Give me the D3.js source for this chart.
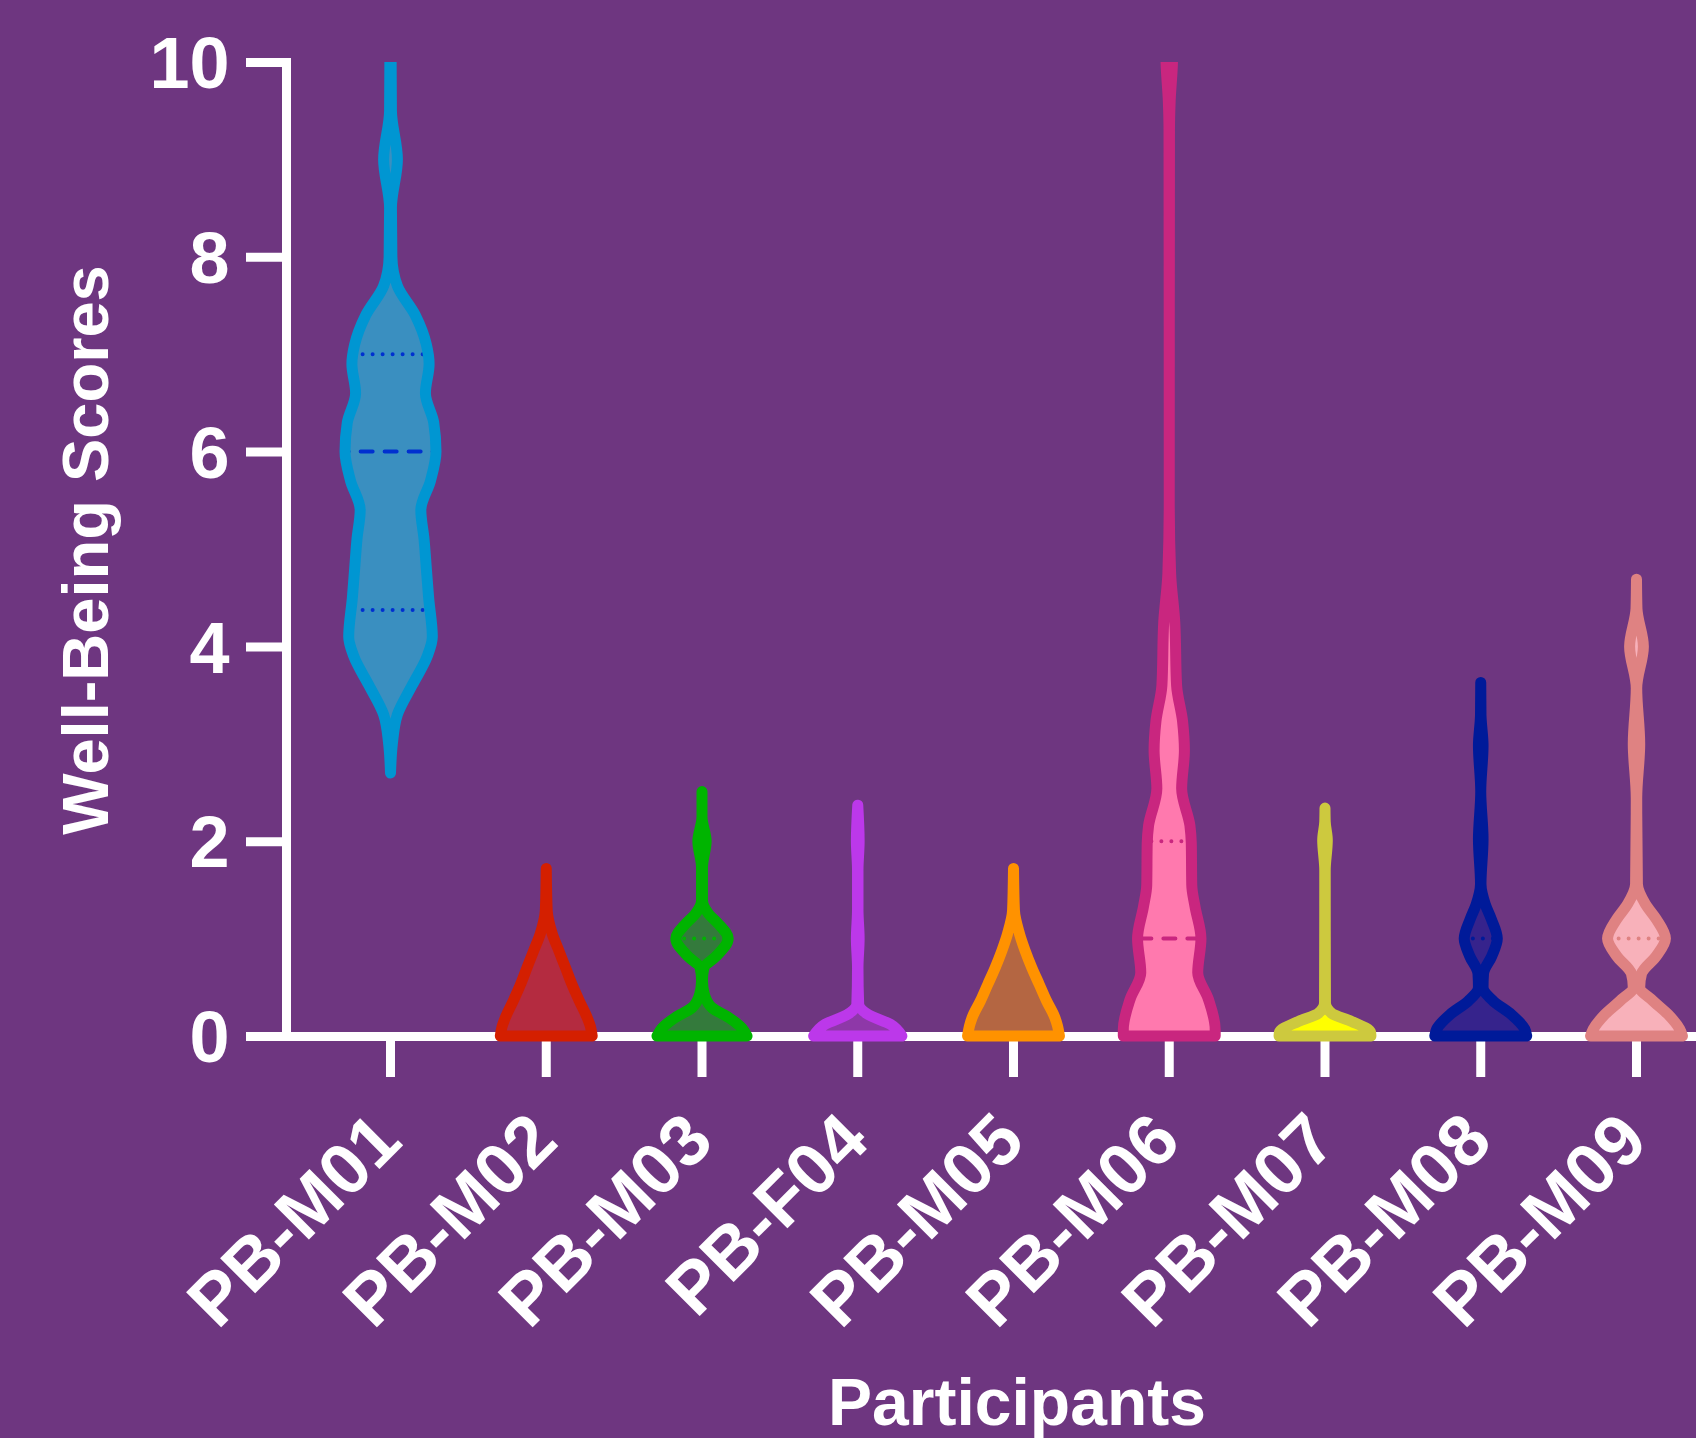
<!DOCTYPE html>
<html>
<head>
<meta charset="utf-8">
<script src="https://cdn.jsdelivr.net/npm/d3@7"></script>
<style>
  body { margin: 0; background: #6e3680; }
  text { font-family: "Liberation Sans", Arial, sans-serif; font-weight: bold; fill: #fff; }
</style>
</head>
<body>
<div id="chart"></div>
<script>
// participants on the x axis
const participants = ['PB-M01', 'PB-M02', 'PB-M03', 'PB-F04', 'PB-M05', 'PB-M06', 'PB-M07', 'PB-M08', 'PB-M09'];
const yTicks = [0, 2, 4, 6, 8, 10];

// violin outlines: [score, relative density]
const violinM01 = [[2.7, 0], [3.0, 0.04], [3.3, 0.15], [3.6, 0.47], [3.9, 0.8], [4.1, 0.91], [4.5, 0.83], [4.8, 0.78], [5.1, 0.73], [5.4, 0.66], [5.7, 0.87], [6.0, 0.99], [6.3, 0.94], [6.6, 0.76], [6.9, 0.84], [7.1, 0.78], [7.4, 0.54], [7.7, 0.15], [8.0, 0.03], [8.5, 0.02], [9.0, 0.15], [9.5, 0.02], [10.3, 0.01]];
const violinM02 = [[0, 1.0], [0.1, 0.96], [0.19, 0.89], [0.36, 0.72], [0.53, 0.56], [0.7, 0.42], [0.88, 0.27], [1.05, 0.13], [1.29, 0.02], [1.72, 0]];
const violinM03 = [[0, 0.98], [0.08, 0.87], [0.19, 0.58], [0.29, 0.22], [0.43, 0.05], [0.57, 0.01], [0.7, 0.04], [0.81, 0.29], [1.0, 0.57], [1.15, 0.36], [1.25, 0.15], [1.39, 0.01], [1.73, 0.01], [2.0, 0.09], [2.25, 0.0], [2.51, 0]];
const violinF04 = [[0, 0.96], [0.12, 0.71], [0.22, 0.23], [0.33, 0.02], [0.7, 0.005], [1.0, 0.03], [1.3, 0.005], [1.7, 0.005], [2.0, 0.03], [2.37, 0]];
const violinM05 = [[0, 1.0], [0.1, 0.96], [0.19, 0.9], [0.36, 0.72], [0.53, 0.56], [0.7, 0.4], [0.88, 0.25], [1.05, 0.13], [1.29, 0.02], [1.72, 0]];
const violinM06 = [[0, 1.0], [0.07, 1.0], [0.38, 0.85], [0.65, 0.62], [1.0, 0.69], [1.33, 0.56], [1.55, 0.49], [1.98, 0.48], [2.16, 0.45], [2.54, 0.27], [2.93, 0.33], [3.23, 0.29], [3.6, 0.16], [4.25, 0.12], [4.75, 0.03], [5.5, 0.0], [9.3, 0.005], [9.6, 0.02], [10.0, 0.07], [10.4, 0.08]];
const violinM07 = [[0, 1.0], [0.04, 0.99], [0.15, 0.58], [0.23, 0.15], [0.34, 0.01], [1.7, 0.005], [2.01, 0.05], [2.2, 0.005], [2.34, 0]];
const violinM08 = [[0, 1.0], [0.07, 0.96], [0.22, 0.67], [0.36, 0.27], [0.5, 0.05], [0.64, 0.06], [0.82, 0.24], [1.0, 0.36], [1.2, 0.23], [1.35, 0.1], [1.56, 0.005], [2.02, 0.05], [2.51, 0.0], [2.98, 0.05], [3.3, 0.005], [3.63, 0]];
const violinM09 = [[0, 1.0], [0.07, 0.94], [0.22, 0.69], [0.36, 0.36], [0.5, 0.07], [0.64, 0.11], [0.82, 0.43], [1.0, 0.63], [1.2, 0.43], [1.35, 0.2], [1.56, 0.02], [2.44, 0.005], [3.0, 0.07], [3.57, 0.005], [4.0, 0.15], [4.39, 0.01], [4.69, 0]];
const violins = [violinM01, violinM02, violinM03, violinF04, violinM05, violinM06, violinM07, violinM08, violinM09];

const medians = [6, 0, 0, 0, 0, 1, 0, 0, 0];
const lowerQuartiles = [4.375, 0, 0, 0, 0, 0, 0, 0, 0];
const upperQuartiles = [7, 0, 1, 0, 0, 2, 0, 1, 1];

const strokeColors = ['#0096d2', '#d41f00', '#00b400', '#bc38ea', '#ff9200', '#c9267f', '#cdc93e', '#001a99', '#df8282'];
const fillColors = ['#3a8fc0', '#b42b40', '#347a3c', '#8e38a8', '#b46642', '#ff79ae', '#ffff00', '#36238c', '#f8b1ba'];
const lineColors = ['#0030d0', '#d41f00', '#00b400', '#bc38ea', '#ff9200', '#c9267f', '#cdc93e', '#001a99', '#df8282'];

const width = 1696, height = 1438;
const margin = { left: 286, top: 62, bottom: 1036 };

const svg = d3.select('#chart').append('svg')
    .attr('width', width)
    .attr('height', height);

svg.append('rect')
    .attr('width', width)
    .attr('height', height)
    .attr('fill', '#6e3680');

const y = d3.scaleLinear().domain([0, 10]).range([margin.bottom, margin.top]);
const x = d3.scaleBand()
    .domain(participants)
    .range([margin.left, margin.left + 1455])
    .paddingInner(0)
    .paddingOuter(0.171);
const halfWidth = d3.scaleLinear().domain([0, 1]).range([0, x.bandwidth() * 0.295]);

// axes first, violins are painted over them
const yAxis = d3.axisLeft(y).tickValues(yTicks).tickSize(40).tickSizeOuter(0);
const yAxisG = svg.append('g')
    .attr('transform', `translate(${margin.left},0)`)
    .call(yAxis);
yAxisG.select('.domain').attr('stroke', '#fff').attr('stroke-width', 9).attr('stroke-linecap', 'square');
yAxisG.selectAll('.tick line').attr('stroke', '#fff').attr('stroke-width', 9);
yAxisG.selectAll('.tick text')
    .attr('x', -56.5)
    .attr('dy', '0.358em')
    .attr('fill', '#fff')
    .style('font-size', '72px')
    .style('font-family', '"Liberation Sans", Arial, sans-serif')
    .style('font-weight', 'bold');

const xAxis = d3.axisBottom(x).tickSize(41).tickSizeOuter(0);
const xAxisG = svg.append('g')
    .attr('transform', `translate(0,${margin.bottom})`)
    .call(xAxis);
xAxisG.select('.domain').attr('stroke', '#fff').attr('stroke-width', 9);
xAxisG.selectAll('.tick line').attr('stroke', '#fff').attr('stroke-width', 9);
xAxisG.selectAll('.tick text')
    .attr('y', 0)
    .attr('dy', 0)
    .attr('transform', 'translate(14,108) rotate(-45)')
    .attr('text-anchor', 'end')
    .attr('fill', '#fff')
    .style('font-size', '72px')
    .style('font-family', '"Liberation Sans", Arial, sans-serif')
    .style('font-weight', 'bold');

const defs = svg.append('defs');
defs.append('clipPath').attr('id', 'plot-clip')
  .append('rect')
    .attr('x', margin.left)
    .attr('y', y(10))
    .attr('width', width)
    .attr('height', height);

const violinG = svg.append('g').attr('clip-path', 'url(#plot-clip)');

participants.forEach((p, i) => {
    const cx = x(p) + x.bandwidth() / 2;
    const pts = violins[i].slice().sort((a, b) => b[0] - a[0]);
    const area = d3.area()
        .curve(d3.curveMonotoneY)
        .y(d => y(d[0]))
        .x0(d => cx - halfWidth(d[1]))
        .x1(d => cx + halfWidth(d[1]));
    const d = area(pts);

    defs.append('clipPath').attr('id', 'vclip' + i)
      .append('path').attr('d', d);

    violinG.append('path')
        .attr('d', d)
        .attr('fill', fillColors[i]);

    const lines = violinG.append('g').attr('clip-path', `url(#vclip${i})`);
    const quart = [
        { v: medians[i], dash: '12,12' },
        { v: lowerQuartiles[i], dash: '0,10' },
        { v: upperQuartiles[i], dash: '0,10' }
    ];
    lines.selectAll('line').data(quart).enter().append('line')
        .attr('x1', cx - x.bandwidth() / 2)
        .attr('x2', cx + x.bandwidth() / 2)
        .attr('y1', q => y(q.v))
        .attr('y2', q => y(q.v))
        .attr('stroke', lineColors[i])
        .attr('stroke-width', 4)
        .attr('stroke-linecap', 'round')
        .attr('stroke-dasharray', q => q.dash);

    violinG.append('path')
        .attr('d', d)
        .attr('fill', 'none')
        .attr('stroke', strokeColors[i])
        .attr('stroke-width', 11)
        .attr('stroke-linejoin', 'round');
});

svg.append('text')
    .attr('transform', 'translate(108,550) rotate(-90)')
    .attr('text-anchor', 'middle')
    .style('font-size', '65px')
    .text('Well-Being Scores');

svg.append('text')
    .attr('x', 1017)
    .attr('y', 1425)
    .attr('text-anchor', 'middle')
    .style('font-size', '66px')
    .text('Participants');
</script>
</body>
</html>
